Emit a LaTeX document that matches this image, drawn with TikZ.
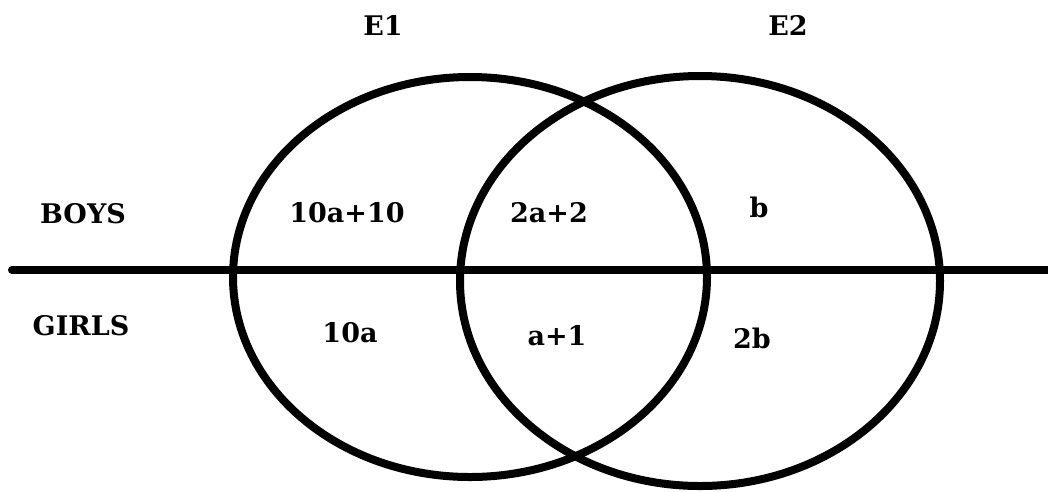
\documentclass[tikz,border=0pt]{standalone}
\usepackage{fontspec}
\setmainfont{DejaVu Serif}
\usepackage{tikz}
\usetikzlibrary{positioning}
\tikzset{
	setline/.style={line width=8pt, black},
	vlabel/.style={font=\fontsize{27}{30}\selectfont\bfseries, inner sep=0pt, anchor=base}
}
\begin{document}
\begin{tikzpicture}[x=1pt, y=-1pt]
	\useasboundingbox (0,0) rectangle (1048,491);
	% the two events
	\draw[setline] (470,277) ellipse [x radius=237, y radius=200];
	\draw[setline] (700,281) ellipse [x radius=240, y radius=205];
	% boys / girls divider
	\coordinate (lstart) at (12,270);
	\coordinate (lend) at (1048,270);
	\draw[setline, line cap=round] (lstart) -- (lend);
	% labels
	\node[vlabel] (e1) at (383,35) {E1};
	\node[vlabel] (e2) at (788,35) {E2};
	\node[vlabel] (boys) at (83,223) {BOYS};
	\node[vlabel] (girls) at (81,335) {GIRLS};
	\node[vlabel] (bl) at (347,222) {10a+10};
	\node[vlabel] (bm) at (549,222) {2a+2};
	\node[vlabel] (br) at (759,217) {b};
	\node[vlabel] (gl) at (350,342) {10a};
	\node[vlabel] (gm) at (557,345) {a+1};
	\node[vlabel] (gr) at (752,348) {2b};
\end{tikzpicture}
\end{document}
